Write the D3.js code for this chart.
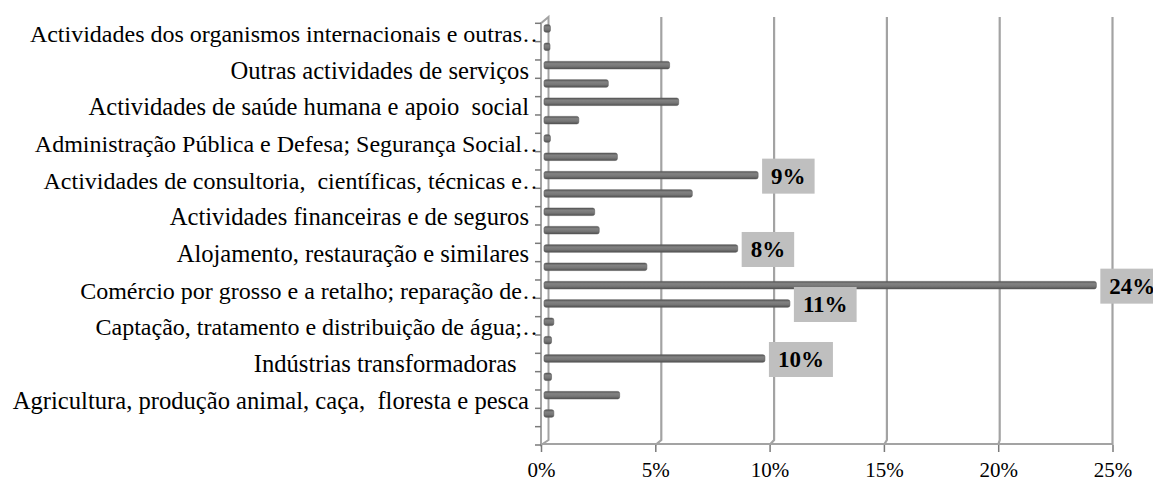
<!DOCTYPE html>
<html>
<head>
<meta charset="utf-8">
<script src="https://cdn.jsdelivr.net/npm/d3@7"></script>
<style>
  html, body { margin: 0; padding: 0; background: #ffffff; }
  svg { display: block; }
</style>
</head>
<body>
<div id="chart"></div>
<script>
// ---------- data (display order, top to bottom) ----------
const categories = [
  "Actividades dos organismos internacionais e outras…",
  "Outras actividades de serviços",
  "Actividades de saúde humana e apoio  social",
  "Administração Pública e Defesa; Segurança Social…",
  "Actividades de consultoria,  científicas, técnicas e…",
  "Actividades financeiras e de seguros",
  "Alojamento, restauração e similares",
  "Comércio por grosso e a retalho; reparação de…",
  "Captação, tratamento e distribuição de água;…",
  "Indústrias transformadoras  ",
  "Agricultura, produção animal, caça,  floresta e pesca"
];
// upper bar of each category pair (%)
const seriesA = [0.15, 5.4, 5.8, 0.15, 9.3, 2.1, 8.4, 24.2, 0.3, 9.6, 3.2];
// lower bar of each category pair (%)
const seriesB = [0.1, 2.7, 1.4, 3.1, 6.4, 2.3, 4.4, 10.7, 0.2, 0.2, 0.3];
// which bars carry a data label (category indices)
const labelledA = [4, 6, 7, 9];
const labelledB = [7];
const xTicks = [0, 5, 10, 15, 20, 25];

// ---------- layout ----------
const W = 1153, H = 482;
const serif = '"Liberation Serif", "Times New Roman", Times, serif';
const svg = d3.select("#chart").append("svg").attr("width", W).attr("height", H);

const nSlots = categories.length * 2 + 1;      // one empty slot at the bottom
const ySlot = d3.scaleLinear().domain([0, nSlots]).range([23.3, 445]);
const xFront = d3.scaleLinear().domain([0, 25]).range([541, 1112.5]);
const xBack  = d3.scaleLinear().domain([0, 25]).range([548.5, 1112.5]);
const xBar   = d3.scaleLinear().domain([0, 25]).range([545, 1112.5]);
const backTop = 17, backBottom = 440, frontBottom = 445;
const barDy = -4, barH = 7.5;

const defs = svg.append("defs");
const grad = defs.append("linearGradient").attr("id", "barGrad")
  .attr("x1", 0).attr("y1", 0).attr("x2", 0).attr("y2", 1);
grad.append("stop").attr("offset", "0%").attr("stop-color", "#555555");
grad.append("stop").attr("offset", "30%").attr("stop-color", "#828282");
grad.append("stop").attr("offset", "65%").attr("stop-color", "#767676");
grad.append("stop").attr("offset", "100%").attr("stop-color", "#505050");

const gridColor = "#a3a3a3";

// ---------- category labels ----------
const labelG = svg.append("g");
categories.forEach((c, i) => {
  const truncated = c.endsWith("…");
  const yc = (ySlot(2 * i) + ySlot(2 * i + 1)) / 2;
  labelG.append("text")
    .attr("x", truncated ? 546 : 529)
    .attr("y", yc + 9.5)
    .attr("text-anchor", "end")
    .style("white-space", "pre")
    .attr("font-family", serif)
    .attr("font-size", truncated ? 24 : 24.6)
    .attr("fill", "#000")
    .text(c);
});

// ---------- gridlines (back wall with bend to floor) ----------
const gridG = svg.append("g");
xTicks.slice(1).forEach(t => {
  gridG.append("path")
    .attr("d", `M${xBack(t)},${backTop} L${xBack(t)},${backBottom} L${xFront(t)},${frontBottom}`)
    .attr("fill", "none").attr("stroke", gridColor).attr("stroke-width", 2.2);
});

// floor front edge
gridG.append("line")
  .attr("x1", xFront(0)).attr("x2", xFront(25))
  .attr("y1", frontBottom - 1).attr("y2", frontBottom - 1)
  .attr("stroke", gridColor).attr("stroke-width", 2);

// side wall (0%)
gridG.append("path")
  .attr("d", `M${xFront(0)},${ySlot(0)} L${xBack(0)},${backTop} L${xBack(0)},${backBottom} L${xFront(0)},${frontBottom} Z`)
  .attr("fill", "#ffffff").attr("stroke", gridColor).attr("stroke-width", 2);

// y-axis tick marks at slot boundaries
d3.range(nSlots + 1).forEach(k => {
  gridG.append("line")
    .attr("x1", xFront(0) - 6).attr("x2", xFront(0))
    .attr("y1", ySlot(k)).attr("y2", ySlot(k))
    .attr("stroke", "#7a7a7a").attr("stroke-width", 1.5);
});

// x-axis ticks and labels (front)
const xAxis = d3.axisBottom(xFront).tickValues(xTicks).tickFormat(d => d + "%")
  .tickSize(7).tickPadding(10);
const axG = svg.append("g").attr("transform", `translate(0,${frontBottom})`).call(xAxis);
axG.select(".domain").remove();
axG.selectAll(".tick line").attr("stroke", "#7a7a7a").attr("stroke-width", 1.5);
axG.selectAll(".tick text").attr("font-family", serif).attr("font-size", 21).attr("fill", "#000");

// ---------- bars ----------
const barData = [];
categories.forEach((c, i) => {
  barData.push({ slot: 2 * i, v: seriesA[i], label: labelledA.includes(i) });
  barData.push({ slot: 2 * i + 1, v: seriesB[i], label: labelledB.includes(i) });
});
const barG = svg.append("g");
barData.forEach(d => {
  const yc = (ySlot(d.slot) + ySlot(d.slot + 1)) / 2 + barDy;
  const x0 = xBar(0) - 1, x1 = Math.max(xBar(d.v), x0 + 4);
  barG.append("rect")
    .attr("x", x0).attr("y", yc - barH / 2)
    .attr("width", x1 - x0 + 2).attr("height", barH)
    .attr("rx", 2).attr("ry", 2)
    .attr("fill", "url(#barGrad)")
    .attr("stroke", "#5a5a5a").attr("stroke-width", 0.6);
  d.yc = yc; d.x1 = x1 + 2;
});

// ---------- data labels ----------
const fmt = d3.format(".0f");
barData.filter(d => d.label).forEach(d => {
  const txt = fmt(d.v) + "%";
  const g = svg.append("g");
  const t = g.append("text")
    .attr("font-family", serif).attr("font-size", 23).attr("font-weight", "bold")
    .attr("fill", "#000").attr("text-anchor", "middle")
    .text(txt);
  const w = t.node().getComputedTextLength() + 18;
  const bx = d.x1 + 4, by = d.yc + 1 - 17.5;
  g.insert("rect", "text")
    .attr("x", bx).attr("y", by).attr("width", w).attr("height", 35)
    .attr("fill", "#bfbfbf");
  t.attr("x", bx + w / 2).attr("y", by + 25.5);
});
</script>
</body>
</html>
